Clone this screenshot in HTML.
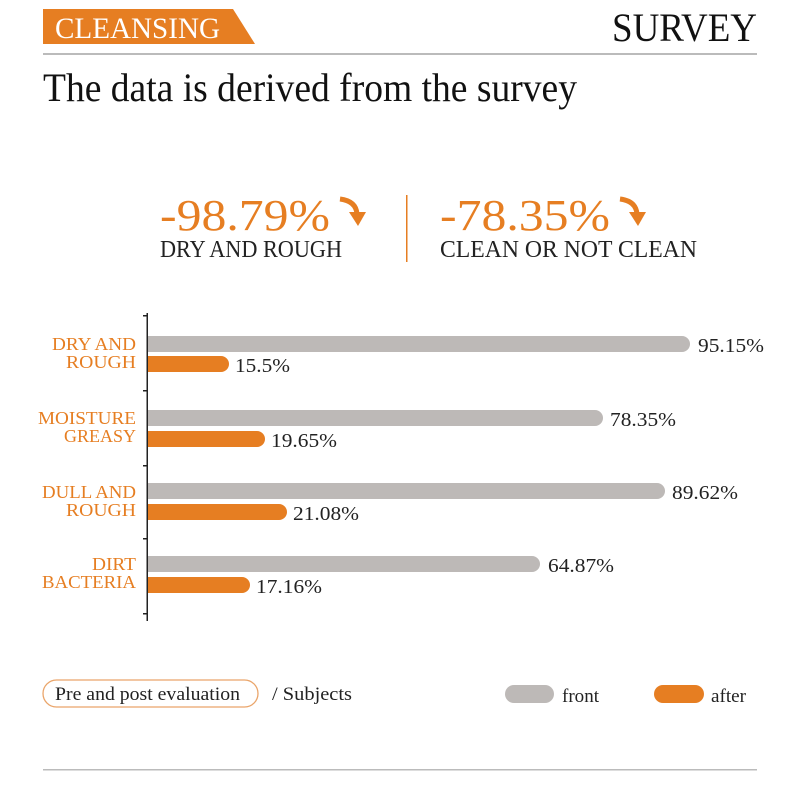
<!DOCTYPE html>
<html><head><meta charset="utf-8"><style>
html,body{margin:0;padding:0;background:#fff;width:800px;height:800px;overflow:hidden}
svg text{font-family:"Liberation Serif",serif}
</style></head><body>
<svg width="800" height="800" viewBox="0 0 800 800" xmlns="http://www.w3.org/2000/svg">
<polygon points="43,9 233,9 255,44 43,44" fill="#e67e22"/>
<text x="55" y="38" font-size="30" fill="#fff" textLength="165" lengthAdjust="spacingAndGlyphs">CLEANSING</text>
<text x="612" y="41" font-size="40" fill="#111" textLength="145" lengthAdjust="spacingAndGlyphs">SURVEY</text>
<rect x="43" y="53" width="714" height="2" fill="#bbb"/>
<text x="43" y="101" font-size="40" fill="#111" textLength="534" lengthAdjust="spacingAndGlyphs">The data is derived from the survey</text>

<text x="160" y="230" font-size="44" fill="#e67e22" textLength="170" lengthAdjust="spacingAndGlyphs">-98.79%</text>
<path d="M340,199 Q356,201 357,214" stroke="#e67e22" stroke-width="5" fill="none"/>
<polygon points="349,212 366,212 358,226" fill="#e67e22"/>
<text x="160" y="257" font-size="24" fill="#222" textLength="182" lengthAdjust="spacingAndGlyphs">DRY AND ROUGH</text>
<rect x="406" y="195" width="1.5" height="67" fill="#e67e22"/>
<text x="440" y="230" font-size="44" fill="#e67e22" textLength="170" lengthAdjust="spacingAndGlyphs">-78.35%</text>
<path d="M620,199 Q636,201 637,214" stroke="#e67e22" stroke-width="5" fill="none"/>
<polygon points="629,212 646,212 638,226" fill="#e67e22"/>
<text x="440" y="257" font-size="24" fill="#222" textLength="257" lengthAdjust="spacingAndGlyphs">CLEAN OR NOT CLEAN</text>

<rect x="146.5" y="313" width="1.5" height="308" fill="#222"/>
<g fill="#222"><rect x="143" y="315" width="4" height="1.5"/><rect x="143" y="390" width="4" height="1.5"/><rect x="143" y="465" width="4" height="1.5"/><rect x="143" y="538" width="4" height="1.5"/><rect x="143" y="613" width="4" height="1.5"/></g>

<g fill="#e67e22" font-size="18" text-anchor="end">
<text x="136" y="350" textLength="84" lengthAdjust="spacingAndGlyphs">DRY AND</text>
<text x="136" y="368" textLength="70" lengthAdjust="spacingAndGlyphs">ROUGH</text>
<text x="136" y="424" textLength="98" lengthAdjust="spacingAndGlyphs">MOISTURE</text>
<text x="136" y="442" textLength="72" lengthAdjust="spacingAndGlyphs">GREASY</text>
<text x="136" y="498" textLength="94" lengthAdjust="spacingAndGlyphs">DULL AND</text>
<text x="136" y="516" textLength="70" lengthAdjust="spacingAndGlyphs">ROUGH</text>
<text x="136" y="570" textLength="44" lengthAdjust="spacingAndGlyphs">DIRT</text>
<text x="136" y="588" textLength="94" lengthAdjust="spacingAndGlyphs">BACTERIA</text>
</g>

<g fill="#bdb9b7">
<path d="M148,336 H682 a8,8 0 0 1 0,16 H148 Z"/>
<path d="M148,410 H595 a8,8 0 0 1 0,16 H148 Z"/>
<path d="M148,483 H657 a8,8 0 0 1 0,16 H148 Z"/>
<path d="M148,556 H532 a8,8 0 0 1 0,16 H148 Z"/>
</g>
<g fill="#e67e22">
<path d="M148,356 H221 a8,8 0 0 1 0,16 H148 Z"/>
<path d="M148,431 H257 a8,8 0 0 1 0,16 H148 Z"/>
<path d="M148,504 H279 a8,8 0 0 1 0,16 H148 Z"/>
<path d="M148,577 H242 a8,8 0 0 1 0,16 H148 Z"/>
</g>
<g fill="#222" font-size="20">
<text x="698" y="352" textLength="66" lengthAdjust="spacingAndGlyphs">95.15%</text>
<text x="235" y="372" textLength="55" lengthAdjust="spacingAndGlyphs">15.5%</text>
<text x="610" y="426" textLength="66" lengthAdjust="spacingAndGlyphs">78.35%</text>
<text x="271" y="447" textLength="66" lengthAdjust="spacingAndGlyphs">19.65%</text>
<text x="672" y="499" textLength="66" lengthAdjust="spacingAndGlyphs">89.62%</text>
<text x="293" y="520" textLength="66" lengthAdjust="spacingAndGlyphs">21.08%</text>
<text x="548" y="572" textLength="66" lengthAdjust="spacingAndGlyphs">64.87%</text>
<text x="256" y="593" textLength="66" lengthAdjust="spacingAndGlyphs">17.16%</text>
</g>

<rect x="43" y="680" width="215" height="27" rx="13.5" fill="none" stroke="#eaa56a" stroke-width="1.3"/>
<text x="55" y="700" font-size="19" fill="#222" textLength="185" lengthAdjust="spacingAndGlyphs">Pre and post evaluation</text>
<text x="272" y="700" font-size="19" fill="#222" textLength="80" lengthAdjust="spacingAndGlyphs">/  Subjects</text>
<rect x="505" y="685" width="49" height="18" rx="9" fill="#bdb9b7"/>
<text x="562" y="702" font-size="19" fill="#222" textLength="37" lengthAdjust="spacingAndGlyphs">front</text>
<rect x="654" y="685" width="50" height="18" rx="9" fill="#e67e22"/>
<text x="711" y="702" font-size="19" fill="#222" textLength="35" lengthAdjust="spacingAndGlyphs">after</text>
<rect x="43" y="769" width="714" height="1.5" fill="#bbb"/>
</svg>
</body></html>
